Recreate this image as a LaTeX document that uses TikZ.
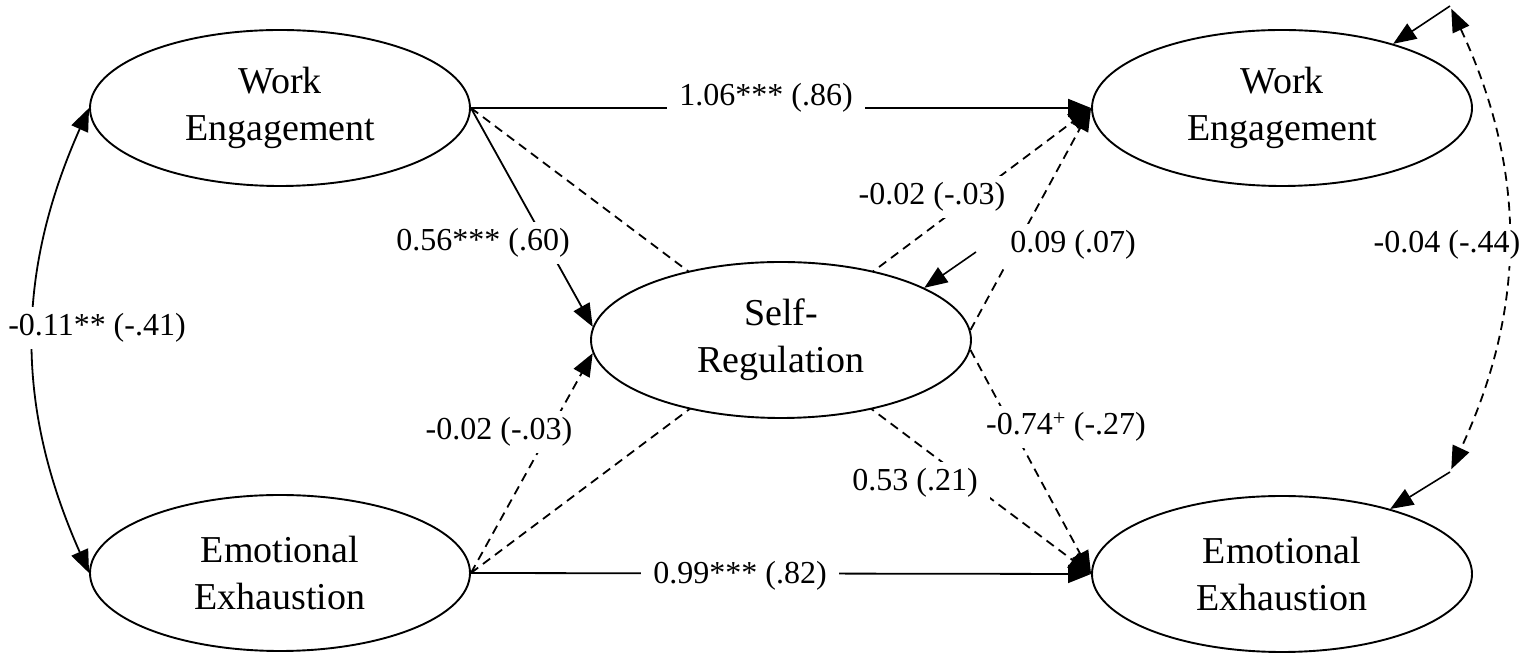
\documentclass[tikz,border=0pt]{standalone}
\usepackage{fontspec}
\setmainfont{Liberation Serif}
\usetikzlibrary{shapes.geometric,arrows.meta,backgrounds}
\begin{document}
\begin{tikzpicture}[x=1pt,y=1pt,
  latent/.style={ellipse, draw, line width=1.9pt, fill=white, minimum width=380pt, minimum height=156pt, inner sep=0pt, align=center, font=\fontsize{38}{47}\selectfont},
  tip/.style={-{Triangle[length=23pt,width=18pt]}},
  sigpath/.style={line width=1.8pt, tip},
  nspath/.style={line width=1.8pt, tip, dash pattern=on 9pt off 6pt},
  covsolid/.style={line width=1.8pt, {Triangle[length=23pt,width=18pt]}-{Triangle[length=23pt,width=18pt]}},
  covdash/.style={covsolid, dash pattern=on 9pt off 6pt},
  coef/.style={fill=white, inner xsep=12pt, inner ysep=6pt, font=\fontsize{32}{38}\selectfont},
]
\useasboundingbox (0,0) rectangle (1535,661);

% latent variables
\node[latent] (WE1) at (280,553) {Work\\Engagement};
\node[latent] (EE1) at (280,88) {Emotional\\Exhaustion};
\node[latent] (SR) at (781,321) {Self-\\Regulation};
\node[latent] (WE2) at (1282,553) {Work\\Engagement};
\node[latent] (EE2) at (1282,87) {Emotional\\Exhaustion};

% disturbance origins
\coordinate (e1) at (976,409);
\coordinate (e2) at (1450,655);
\coordinate (e3) at (1450,189);

\begin{pgfonlayer}{background}
  % cross-lagged paths running behind Self-Regulation
  \draw[nspath] (WE1.east) -- (EE2.west);
  \draw[nspath] (EE1.east) -- (WE2.west);
\end{pgfonlayer}

% structural paths
\draw[sigpath] (WE1.east) -- (WE2.west);
\draw[sigpath] (EE1.east) -- (EE2.west);
\draw[sigpath] (WE1.east) -- (SR.176);
\draw[nspath] (EE1.east) -- (SR.184);
\draw[nspath] (SR.3) -- (WE2.west);
\draw[nspath] (SR.357) -- (EE2.west);

% disturbances
\draw[line width=1.6pt, tip] (e1) -- (SR.20);
\draw[line width=1.6pt, tip] (e2) -- (WE2.30);
\draw[line width=1.6pt, tip] (e3) -- (EE2.31);

% covariances
\draw[covsolid] (WE1.west) to[out=246,in=114] (EE1.west);
\draw[covdash, shorten <=3pt, shorten >=3pt] (e2) to[out=-65,in=65] (e3);

% coefficients
\node[coef] (c1) at (766,563) {1.06*** (.86)};
\node[coef] (c2) at (740,85) {0.99*** (.82)};
\node[coef] (c3) at (483,418) {0.56*** (.60)};
\node[coef] (c4) at (499,229) {-0.02 (-.03)};
\node[coef] (c5) at (932,464) {-0.02 (-.03)};
\node[coef] (c6) at (1073,416) {0.09 (.07)};
\node[coef] (c7) at (1066,234) {-0.74\textsuperscript{+} (-.27)};
\node[coef] (c8) at (915,178) {0.53 (.21)};
\node[coef] (c9) at (1447,416) {-0.04 (-.44)};
\node[coef] (c10) at (97,333) {-0.11** (-.41)};
\end{tikzpicture}
\end{document}
